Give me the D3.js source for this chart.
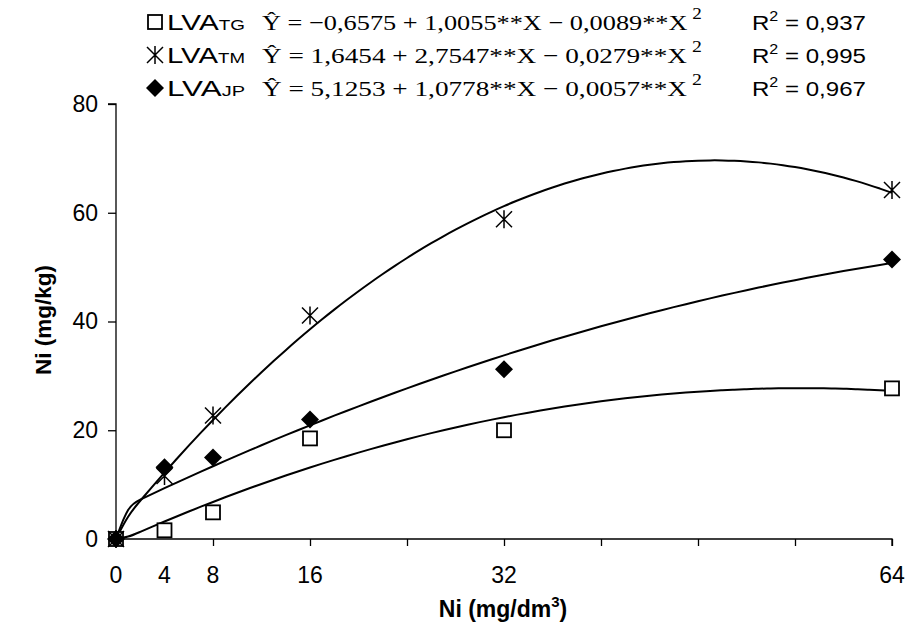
<!DOCTYPE html>
<html>
<head>
<meta charset="utf-8">
<script src="https://cdn.jsdelivr.net/npm/d3@7"></script>
<style>
  html, body { margin: 0; padding: 0; background: #fff; }
  svg { display: block; }
</style>
</head>
<body>
<svg id="chart" width="913" height="630"></svg>
<script>
// ---------------- DATA ----------------
const doses = [0, 4, 8, 16, 32, 64];                 // Ni (mg/dm3)
const seriesNames = ["LVA", "LVA", "LVA"];
const seriesSubs = ["TG", "TM", "JP"];
const valuesTG = [0, 1.6, 4.9, 18.5, 20.0, 27.7];    // squares
const valuesTM = [0, 11.6, 22.7, 41.1, 58.8, 64.2];  // asterisks
const valuesJP = [0, 13.2, 15.0, 22.0, 31.2, 51.4];  // diamonds
// trend-line coefficients (b0, b1, b2) as printed in the legend
const coefTG = [-0.6575, 1.0055, -0.0089];
const coefTM = [1.6454, 2.7547, -0.0279];
const coefJP = [5.1253, 1.0778, -0.0057];
const eqTexts = [
  ["\u2212", "0,6575", "1,0055", "0,0089"],
  ["", "1,6454", "2,7547", "0,0279"],
  ["", "5,1253", "1,0778", "0,0057"]
];
const r2Texts = ["0,937", "0,995", "0,967"];
const xTickLabels = [0, 4, 8, 16, 32, 64];
const xTickMarks = [0, 8, 16, 24, 32, 40, 48, 56, 64];
const yTicks = [0, 20, 40, 60, 80];

// ---------------- LAYOUT ----------------
const svg = d3.select("#chart");
const x = d3.scaleLinear().domain([0, 64]).range([116, 892]);
const y = d3.scaleLinear().domain([0, 80]).range([539, 104]);
const SANS = "'Liberation Sans', Arial, sans-serif";
const SERIF = "'Liberation Serif', 'Times New Roman', serif";

// axes
const yAxis = d3.axisLeft(y).tickValues(yTicks).tickSize(8).tickPadding(10).tickFormat(d3.format("d"));
const gy = svg.append("g").attr("transform", `translate(${x(0)},0)`).call(yAxis);
const xAxis = d3.axisBottom(x).tickValues(xTickMarks).tickSize(7).tickFormat("");
const gx = svg.append("g").attr("transform", `translate(0,${y(0)})`).call(xAxis);
[gx, gy].forEach(g => {
  g.select(".domain").attr("stroke", "#000").attr("stroke-width", 1.3);
  g.selectAll(".tick line").attr("stroke", "#000").attr("stroke-width", 1.3);
});
gy.selectAll(".tick text").attr("font-family", SANS).attr("font-size", 23).attr("fill", "#000");
gy.select(".domain").attr("d", `M-8,${y(80)}H0V${y(0)}`);
gx.select(".domain").attr("d", `M${x(0)},0H${x(64)}V7`);

svg.append("g").selectAll("text").data(xTickLabels).join("text")
  .attr("x", d => x(d)).attr("y", 583)
  .attr("text-anchor", "middle")
  .attr("font-family", SANS).attr("font-size", 23)
  .text(d => d);

// axis titles
svg.append("text")
  .attr("transform", `translate(51,320) rotate(-90)`)
  .attr("text-anchor", "middle")
  .attr("font-family", SANS).attr("font-size", 22.5).attr("font-weight", "bold")
  .text("Ni (mg/kg)");
const xt = svg.append("text")
  .attr("x", 503).attr("y", 617)
  .attr("text-anchor", "middle")
  .attr("font-family", SANS).attr("font-size", 23).attr("font-weight", "bold");
xt.append("tspan").text("Ni (mg/dm");
xt.append("tspan").attr("font-size", 15).attr("dy", -10).text("3");
xt.append("tspan").attr("dy", 10).text(")");

// ---------------- CURVES ----------------
const poly = c => X => c[0] + c[1] * X + c[2] * X * X;
const curveXs = d3.range(0, 64.001, 1);
const line = d3.line().x(d => x(d[0])).y(d => y(d[1])).curve(d3.curveBasis);
[coefTG, coefTM, coefJP].forEach(c => {
  const f = poly(c);
  const pts = curveXs.map(X => [X, X === 0 ? 0 : Math.max(0, f(X))]);
  svg.append("path").attr("d", line(pts))
    .attr("fill", "none").attr("stroke", "#000").attr("stroke-width", 2);
});

// ---------------- MARKERS ----------------
function square(g, cx, cy) {
  g.append("rect").attr("x", cx - 7).attr("y", cy - 7).attr("width", 14).attr("height", 14)
    .attr("fill", "#fff").attr("stroke", "#000").attr("stroke-width", 1.8);
}
function diamond(g, cx, cy) {
  g.append("path").attr("d", `M${cx},${cy - 9}L${cx + 9},${cy}L${cx},${cy + 9}L${cx - 9},${cy}Z`)
    .attr("fill", "#000");
}
function asterisk(g, cx, cy) {
  g.append("path")
    .attr("d", `M${cx - 8},${cy - 8}L${cx + 8},${cy + 8}M${cx - 8},${cy + 8}L${cx + 8},${cy - 8}M${cx},${cy - 9}V${cy + 9}`)
    .attr("stroke", "#000").attr("stroke-width", 1.5).attr("fill", "none");
}
const markerFns = [square, asterisk, diamond];
const allValues = [valuesTG, valuesTM, valuesJP];
const mg = svg.append("g");
allValues.forEach((vals, i) => {
  vals.forEach((v, j) => markerFns[i](mg, x(doses[j]), y(v)));
});

// ---------------- LEGEND ----------------
// the legend block in the reference is horizontally stretched
function stretch(sel, x0, targetW) {
  const w = sel.node().getBBox().width;
  sel.attr("transform", `translate(${x0},0) scale(${targetW / w},1) translate(${-x0},0)`);
}
const rowY = [22, 55, 88];
rowY.forEach((ry, i) => {
  const g = svg.append("g");
  markerFns[i](g, 155, ry);
  const t = g.append("text").attr("x", 167).attr("y", ry + 8)
    .attr("font-family", SANS).attr("font-size", 22);
  t.append("tspan").text(seriesNames[i]);
  t.append("tspan").attr("font-size", 14).text(seriesSubs[i]);
  stretch(t, 167, 78);

  const e = eqTexts[i];
  const eq = g.append("text").attr("x", 262).attr("y", ry + 8)
    .attr("font-family", SERIF).attr("font-size", 22);
  eq.append("tspan").text(`\u0176 = ${e[0]}${e[1]} + ${e[2]}**X \u2212 ${e[3]}**X`);
  eq.append("tspan").attr("font-size", 16).attr("dy", -11).attr("dx", 4).text("2");
  stretch(eq, 262, 440);

  const r = g.append("text").attr("x", 752).attr("y", ry + 8)
    .attr("font-family", SANS).attr("font-size", 21);
  r.append("tspan").text("R");
  r.append("tspan").attr("font-size", 14).attr("dy", -9).text("2");
  r.append("tspan").attr("dy", 9).text(` = ${r2Texts[i]}`);
  stretch(r, 752, 114);
});
</script>
</body>
</html>
